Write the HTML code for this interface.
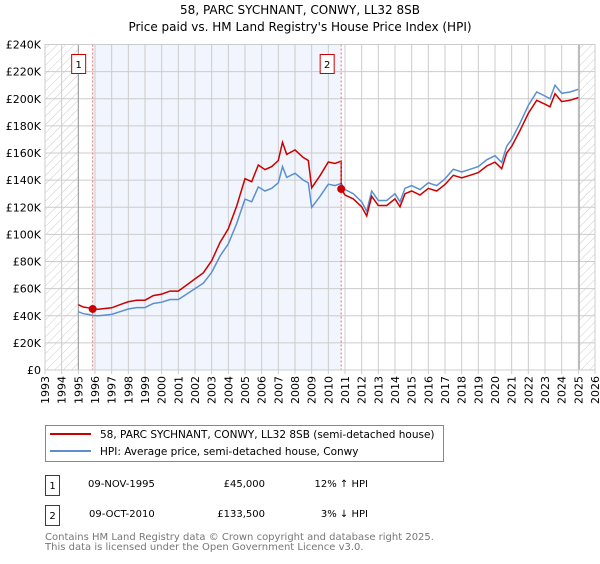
<!DOCTYPE html>
<html><head><meta charset="utf-8"><style>
body{margin:0;background:#fff;width:600px;height:560px;overflow:hidden;font-family:"DejaVu Sans","Liberation Sans",sans-serif;}
svg text{font-family:"DejaVu Sans","Liberation Sans",sans-serif;}
</style></head><body>
<svg id="c" width="600" height="560" xmlns="http://www.w3.org/2000/svg">
<defs><pattern id="hatch" width="6" height="6" patternUnits="userSpaceOnUse" patternTransform="rotate(45)"><line x1="0" y1="0" x2="0" y2="6" stroke="#ccc" stroke-width="1"/></pattern></defs>
<text x="300" y="14" text-anchor="middle" font-size="12">58, PARC SYCHNANT, CONWY, LL32 8SB</text>
<text x="300" y="31" text-anchor="middle" font-size="12">Price paid vs. HM Land Registry's House Price Index (HPI)</text>
<g id="plot"></g>
<g>
<rect x="45.5" y="425.5" width="398" height="36" fill="#fff" stroke="#888"/>
<line x1="50" y1="434" x2="91" y2="434" stroke="#cc0000" stroke-width="2"/>
<text x="100" y="438" font-size="10.5">58, PARC SYCHNANT, CONWY, LL32 8SB (semi-detached house)</text>
<line x1="50" y1="451" x2="91" y2="451" stroke="#5b8fd0" stroke-width="2"/>
<text x="100" y="455" font-size="10.5">HPI: Average price, semi-detached house, Conwy</text>
</g>
<g font-size="10">
<rect x="45.5" y="475.5" width="14" height="20" fill="#fff" stroke="#cc0000"/><text x="52.5" y="489" text-anchor="middle">1</text>
<text x="88" y="487">09-NOV-1995</text><text x="265" y="487" text-anchor="end">£45,000</text><text x="368" y="487" text-anchor="end">12% ↑ HPI</text>
<rect x="45.5" y="505.5" width="14" height="20" fill="#fff" stroke="#cc0000"/><text x="52.5" y="519" text-anchor="middle">2</text>
<text x="89" y="517">09-OCT-2010</text><text x="265" y="517" text-anchor="end">£133,500</text><text x="368" y="517" text-anchor="end">3% ↓ HPI</text>
</g>
<text x="45" y="540" font-size="10" fill="#777">Contains HM Land Registry data © Crown copyright and database right 2025.</text>
<text x="45" y="550" font-size="10" fill="#777">This data is licensed under the Open Government Licence v3.0.</text>
</svg>
<script>
const hpiYears=[1995.0,1995.3,1995.6,1995.86,1996.2,1996.6,1997.0,1997.5,1998.0,1998.5,1999.0,1999.5,2000.0,2000.5,2001.0,2001.5,2002.0,2002.5,2003.0,2003.5,2004.0,2004.5,2005.0,2005.4,2005.8,2006.2,2006.6,2007.0,2007.25,2007.5,2008.0,2008.5,2008.8,2009.0,2009.5,2010.0,2010.4,2010.77,2011.0,2011.5,2012.0,2012.3,2012.6,2013.0,2013.5,2014.0,2014.3,2014.6,2015.0,2015.5,2016.0,2016.5,2017.0,2017.5,2018.0,2018.5,2019.0,2019.5,2020.0,2020.4,2020.7,2021.0,2021.5,2022.0,2022.5,2023.0,2023.3,2023.6,2024.0,2024.5,2025.0];
const hpiValues=[43000,41500,41000,40200,40000,40500,41000,43000,45000,46000,46000,49000,50000,52000,52000,56000,60000,64000,72000,84000,93000,108000,126000,124000,135000,132000,134000,138000,150000,142000,145000,140000,138000,120000,128000,137000,136000,137600,133000,130000,124000,117000,132000,125000,125000,130000,124000,134000,136000,133000,138000,136000,141000,148000,146000,148000,150000,155000,158000,153000,165000,170000,182000,195000,205000,202000,200000,210000,204000,205000,207000];
const saleDates=[1995.86,2010.77];
const salePrices=[45000,133500];
const saleLabels=["1","2"];
const yTicks=[0,20000,40000,60000,80000,100000,120000,140000,160000,180000,200000,220000,240000];
const xTicks=[1993,1994,1995,1996,1997,1998,1999,2000,2001,2002,2003,2004,2005,2006,2007,2008,2009,2010,2011,2012,2013,2014,2015,2016,2017,2018,2019,2020,2021,2022,2023,2024,2025,2026];
const X0=45,X1=595,Y0=370,Y1=44.5,xMin=1993,xMax=2026,yMax=240000;
const sx=v=>X0+(v-xMin)/(xMax-xMin)*(X1-X0);
const sy=v=>Y0-v/yMax*(Y0-Y1);
const NS="http://www.w3.org/2000/svg";
const g=document.getElementById('plot');
function mk(t,a,p){const e=document.createElementNS(NS,t);for(const k in a)e.setAttribute(k,a[k]);(p||g).appendChild(e);return e;}
function hpiAt(t){for(let i=0;i<hpiYears.length-1;i++){if(t<=hpiYears[i+1]){const f=(t-hpiYears[i])/(hpiYears[i+1]-hpiYears[i]);return hpiValues[i]+f*(hpiValues[i+1]-hpiValues[i]);}}return hpiValues[hpiValues.length-1];}
let bg=mk('rect',{x:X0,y:Y1,width:X1-X0,height:Y0-Y1,fill:'#fff'});


let h1=mk('rect',{x:X0,y:Y1,width:sx(1995)-X0,height:Y0-Y1,fill:'url(#hatch)'});


let h2=mk('rect',{x:sx(2025.05),y:Y1,width:X1-sx(2025.05),height:Y0-Y1,fill:'url(#hatch)'});


let sh=mk('rect',{x:sx(saleDates[0]),y:Y1,width:sx(saleDates[1])-sx(saleDates[0]),height:Y0-Y1,fill:'#eef3fc',opacity:0.8});


yTicks.forEach(v=>{
 let l=mk('line',{x1:X0,x2:X1,y1:sy(v),y2:sy(v),stroke:'#ccc','stroke-width':1});
 
 
 let t=mk('text',{x:X0-4,y:sy(v)+4,'text-anchor':'end','font-size':11});
 
 
 t.textContent=v===0?'£0':'£'+(v/1000)+'K';
});
xTicks.forEach(v=>{
 let l=mk('line',{x1:sx(v),x2:sx(v),y1:Y1,y2:Y0+4,stroke:'#ccc','stroke-width':1});
 
 
 let t=mk('text',{x:0,y:0,'font-size':11,'text-anchor':'end',transform:`translate(${sx(v)+4},${Y0+6}) rotate(-90)`});
 
 
 t.textContent=v;
});
let v1=mk('line',{x1:sx(1995),x2:sx(1995),y1:Y1,y2:Y0,stroke:'#999','stroke-width':1});


let v2=mk('line',{x1:sx(2025.05),x2:sx(2025.05),y1:Y1,y2:Y0,stroke:'#999','stroke-width':1});


let hp=hpiYears.map((t,i)=>sx(t).toFixed(1)+','+sy(hpiValues[i]).toFixed(1)).join(' ');
let hl=mk('polyline',{points:hp,fill:'none',stroke:'#5b8fd0','stroke-width':1.5});


let rp=hpiYears.map((t,i)=>{let k=t<saleDates[1]?0:1;const v=hpiValues[i]*salePrices[k]/hpiAt(saleDates[k]);return sx(t).toFixed(1)+','+sy(v).toFixed(1);});
let pts=[];hpiYears.forEach((t,i)=>{if(i>0&&hpiYears[i-1]<saleDates[1]&&t>=saleDates[1]){pts.push(sx(saleDates[1]).toFixed(1)+','+sy(hpiAt(saleDates[1])*salePrices[0]/hpiAt(saleDates[0])).toFixed(1));pts.push(sx(saleDates[1]).toFixed(1)+','+sy(salePrices[1]).toFixed(1));}pts.push(rp[i]);});
let rl=mk('polyline',{points:pts.join(' '),fill:'none',stroke:'#cc0000','stroke-width':1.5});


saleDates.forEach((d,i)=>{
 let l=mk('line',{x1:sx(d),x2:sx(d),y1:Y1,y2:Y0,stroke:'#ff6666','stroke-width':1,'stroke-dasharray':'2,2'});
 
 
 let c=mk('circle',{cx:sx(d),cy:sy(salePrices[i]),r:4,fill:'#cc0000'});
 
 
 let b=mk('rect',{x:sx(d)-21,y:54.5,width:14,height:19,fill:'#fff',stroke:'#cc0000'});
 
 
 let t=mk('text',{x:sx(d)-14,y:68,'text-anchor':'middle','font-size':10});
 
 
 t.textContent=saleLabels[i];
});
let fr=mk('rect',{x:X0,y:Y1,width:X1-X0,height:Y0-Y1,fill:'none',stroke:'#ccc'});


</script>
</body></html>
